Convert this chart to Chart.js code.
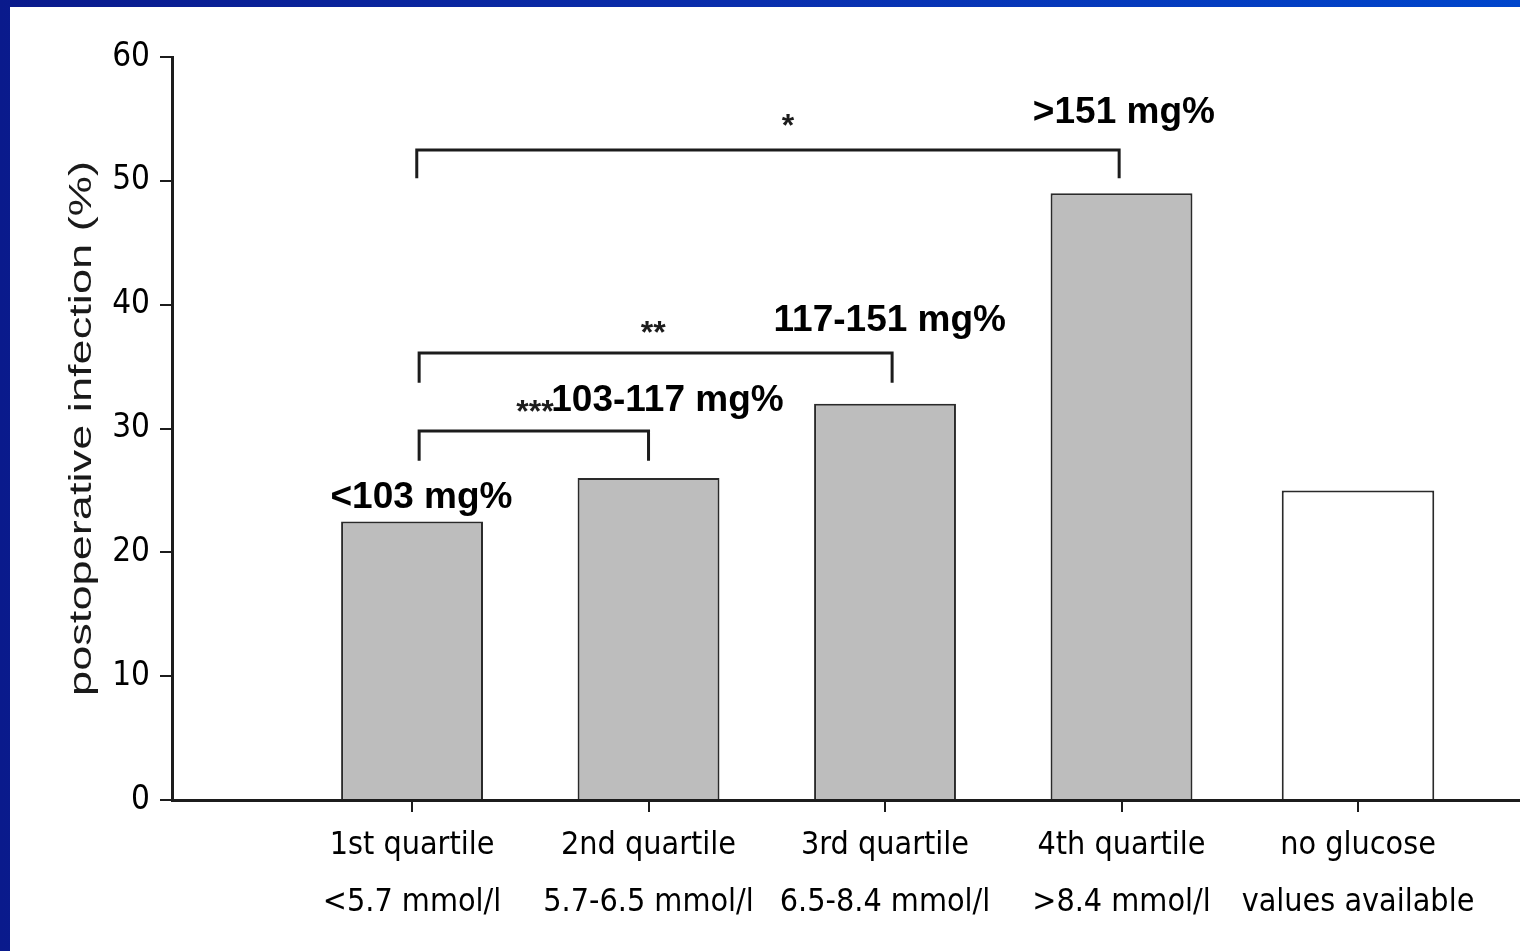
<!DOCTYPE html>
<html>
<head>
<meta charset="utf-8">
<script src="https://cdn.jsdelivr.net/npm/chart.js@4"></script>
<style>
  html, body { margin: 0; padding: 0; }
  body {
    width: 1520px; height: 951px; overflow: hidden;
    background: linear-gradient(to right, #0a1a8c, #0a2fae 50%, #0046cc);
  }
  #wrap {
    position: absolute; left: 10px; top: 7px;
    width: 1510px; height: 944px; background: #fff;
  }
</style>
</head>
<body>
<div id="wrap"><canvas id="infChart"></canvas></div>
<script>
// categories + values
const categories = [
  ['1st quartile', '<5.7 mmol/l'],
  ['2nd quartile', '5.7-6.5 mmol/l'],
  ['3rd quartile', '6.5-8.4 mmol/l'],
  ['4th quartile', '>8.4 mmol/l'],
  ['no glucose', 'values available']
];
const quartileValues = [22.5, 26, 32, 49];
const noGlucoseValue = [25];
const yTicks = [0, 10, 20, 30, 40, 50, 60];
const yTitle = 'postoperative infection (%)';

// glucose ranges written above bars
const mgLabels = ['<103 mg%', '103-117 mg%', '117-151 mg%', '>151 mg%'];
const mgLabelPos = [[0.04, 24.4], [1.08, 32.2], [2.02, 38.7], [3.01, 55.5]];

// significance brackets: from, to, level, legs down to, stars
const brackets = [
  { from: 0.02, to: 2.99, y: 52.5, drop: 50.2, mark: '*', mx: 1.59, my: 54.3 },
  { from: 0.03, to: 2.03, y: 36.1, drop: 33.7, mark: '**', mx: 1.02, my: 37.6 },
  { from: 0.03, to: 1.0, y: 29.8, drop: 27.4, mark: '***', mx: 0.52, my: 31.2 }
];

const narrow = "'Liberation Sans Narrow', 'DejaVu Sans Condensed', Arial, sans-serif";
const ink = '#1c1c1c';

const annotate = {
  id: 'annotate',
  afterDraw(chart) {
    const { ctx, scales: { x, y } } = chart;
    ctx.save();
    // brackets
    ctx.strokeStyle = ink;
    ctx.lineWidth = 3;
    brackets.forEach(b => {
      ctx.beginPath();
      ctx.moveTo(x.getPixelForValue(b.from), y.getPixelForValue(b.drop));
      ctx.lineTo(x.getPixelForValue(b.from), y.getPixelForValue(b.y));
      ctx.lineTo(x.getPixelForValue(b.to), y.getPixelForValue(b.y));
      ctx.lineTo(x.getPixelForValue(b.to), y.getPixelForValue(b.drop));
      ctx.stroke();
      ctx.fillStyle = ink;
      ctx.font = "bold 32px 'Liberation Sans', Arial, sans-serif";
      ctx.textAlign = 'center';
      ctx.textBaseline = 'middle';
      ctx.fillText(b.mark, x.getPixelForValue(b.mx), y.getPixelForValue(b.my));
    });
    // mg% labels
    ctx.fillStyle = '#000';
    ctx.font = "bold 37px 'Liberation Sans', Arial, sans-serif";
    ctx.textAlign = 'center';
    ctx.textBaseline = 'middle';
    mgLabels.forEach((t, i) => {
      ctx.fillText(t, x.getPixelForValue(mgLabelPos[i][0]), y.getPixelForValue(mgLabelPos[i][1]));
    });
    // y axis title, stretched along its length like the original
    ctx.font = "31px 'Liberation Sans', Arial, sans-serif";
    ctx.fillStyle = '#1a1a1a';
    const w = ctx.measureText(yTitle).width;
    const cy = (y.top + y.bottom) / 2;
    ctx.translate(72, cy);
    ctx.rotate(-Math.PI / 2);
    ctx.scale(535 / w, 1);
    ctx.fillText(yTitle, 0, 0);
    ctx.restore();
  }
};

const ctx = document.getElementById('infChart').getContext('2d');
new Chart(ctx, {
  type: 'bar',
  data: {
    datasets: [{
      data: quartileValues.map((v, i) => ({ x: i, y: v })),
      backgroundColor: '#bdbdbd',
      borderColor: '#2a2a2a',
      borderWidth: 2,
      grouped: false,
      categoryPercentage: 1,
      barPercentage: 0.6
    }, {
      data: noGlucoseValue.map((v, i) => ({ x: quartileValues.length + i, y: v })),
      backgroundColor: '#ffffff',
      borderColor: '#2a2a2a',
      borderWidth: 2,
      grouped: false,
      categoryPercentage: 1,
      barPercentage: 0.645
    }]
  },
  options: {
    responsive: true,
    maintainAspectRatio: false,
    animation: false,
    layout: { padding: { top: 50, left: 0, right: 0, bottom: 0 } },
    plugins: { legend: { display: false }, tooltip: { enabled: false } },
    scales: {
      x: {
        type: 'linear',
        offset: false,
        min: -1.015,
        max: 4.685,
        afterBuildTicks: s => { s.ticks = categories.map((c, i) => ({ value: i })); },
        afterFit: s => { s.height = 151; },
        grid: { offset: false, drawOnChartArea: false, drawTicks: true, tickLength: 12, color: ink, lineWidth: 2 },
        border: { color: ink, width: 3 },
        ticks: {
          autoSkip: false, maxRotation: 0, padding: 5,
          color: '#000',
          font: { family: narrow, size: 32, lineHeight: 1.78 },
          callback: v => categories[v]
        }
      },
      y: {
        min: 0,
        max: 60,
        afterBuildTicks: s => { s.ticks = yTicks.map(v => ({ value: v })); },
        afterFit: s => { s.width = 162; },
        grid: { drawOnChartArea: false, drawTicks: true, tickLength: 12, color: ink, lineWidth: 2 },
        border: { color: ink, width: 3 },
        ticks: {
          padding: 10,
          color: '#000',
          font: { family: narrow, size: 33 }
        }
      }
    }
  },
  plugins: [annotate]
});
</script>
</body>
</html>
